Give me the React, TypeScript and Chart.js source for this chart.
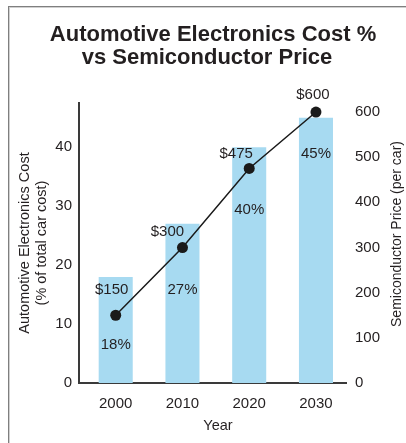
import React, { useEffect, useRef } from 'react';
import { Chart, registerables } from 'chart.js';

Chart.register(...registerables);

const years = [2000, 2010, 2020, 2030];
const costPct = [18, 27, 40, 45];
const semiPrice = [150, 300, 475, 600];
const pctLabels = ['18%', '27%', '40%', '45%'];
const priceLabels = ['$150', '$300', '$475', '$600'];
const leftTicks = [0, 10, 20, 30, 40];
const rightTicks = [0, 100, 200, 300, 400, 500, 600];
const titleLines = ['Automotive Electronics Cost %', 'vs Semiconductor Price'];
const leftTitle = ['Automotive Electronics Cost', '(% of total car cost)'];
const rightTitle = 'Semiconductor Price (per car)';
const xTitle = 'Year';

// label placement offsets (px) relative to the line points
const priceLabelOffsets = [[-4, -25], [-15, -16], [-13, -15], [-3, -17]];
const pctLabelOffsets = [30, 42, 41, 42];

const FONT = '"Liberation Sans", Arial, Helvetica, sans-serif';
const TEXT = '#231f20';

export default function App() {
  const ref = useRef<HTMLCanvasElement | null>(null);

  useEffect(() => {
    const canvas = ref.current;
    if (!canvas) return;

    const labelPlugin = {
      id: 'customText',
      afterDatasetsDraw(chart: any) {
        const ctx = chart.ctx;
        const meta = chart.getDatasetMeta(1);
        ctx.save();
        ctx.fillStyle = TEXT;
        ctx.font = `15px ${FONT}`;
        ctx.textAlign = 'center';
        ctx.textBaseline = 'middle';
        meta.data.forEach((pt: any, i: number) => {
          ctx.fillText(priceLabels[i], pt.x + priceLabelOffsets[i][0], pt.y + priceLabelOffsets[i][1]);
          ctx.fillText(pctLabels[i], pt.x, pt.y + pctLabelOffsets[i]);
        });
        ctx.restore();
      },
      afterDraw(chart: any) {
        const ctx = chart.ctx;
        ctx.save();
        ctx.fillStyle = TEXT;
        ctx.textAlign = 'center';
        ctx.textBaseline = 'alphabetic';
        ctx.font = `bold 22px ${FONT}`;
        ctx.fillText(titleLines[0], 213, 41);
        ctx.fillText(titleLines[1], 207, 64);

        ctx.font = `14.5px ${FONT}`;
        ctx.textBaseline = 'middle';
        ctx.fillText(xTitle, 218, 426);

        ctx.save();
        ctx.translate(25, 243);
        ctx.rotate(-Math.PI / 2);
        ctx.fillText(leftTitle[0], 0, 0);
        ctx.restore();
        ctx.save();
        ctx.translate(42, 243);
        ctx.rotate(-Math.PI / 2);
        ctx.fillText(leftTitle[1], 0, 0);
        ctx.restore();
        ctx.font = `14px ${FONT}`;
        ctx.save();
        ctx.translate(397, 234);
        ctx.rotate(-Math.PI / 2);
        ctx.fillText(rightTitle, 0, 0);
        ctx.restore();
        ctx.restore();
      },
    };

    const tickFont = { family: FONT, size: 15 };

    const chart = new Chart(canvas, {
      data: {
        datasets: [
          {
            type: 'bar',
            data: years.map((x, i) => ({ x, y: costPct[i] })),
            xAxisID: 'x',
            yAxisID: 'y',
            backgroundColor: '#a7daf1',
            barPercentage: 0.51,
            categoryPercentage: 1,
            order: 1,
          } as any,
          {
            type: 'line',
            data: years.map((x, i) => ({ x, y: semiPrice[i] })),
            xAxisID: 'x',
            yAxisID: 'y2',
            borderColor: '#1a1a1a',
            borderWidth: 1.5,
            pointRadius: 5.5,
            pointBackgroundColor: '#1a1a1a',
            pointBorderColor: '#1a1a1a',
            pointBorderWidth: 0,
            order: 0,
          } as any,
        ],
      },
      options: {
        responsive: false,
        animation: false,
        layout: { padding: { top: 103, left: 0, right: 0, bottom: 0 } },
        plugins: {
          legend: { display: false },
          tooltip: { enabled: false },
          title: { display: false },
        },
        scales: {
          x: {
            type: 'linear',
            offset: false,
            min: 1994.5,
            max: 2034.5,
            afterBuildTicks: (s: any) => {
              s.ticks = years.map((v) => ({ value: v }));
            },
            afterFit: (s: any) => {
              s.height = 60;
            },
            ticks: {
              callback: (v: any) => String(v),
              font: tickFont,
              color: TEXT,
              padding: 12,
              autoSkip: false,
              maxRotation: 0,
            },
            grid: { display: false, drawTicks: false, offset: false },
            border: { display: true, color: '#3a3a3a', width: 2 },
          },
          y: {
            type: 'linear',
            position: 'left',
            min: 0,
            max: 47.5,
            afterBuildTicks: (s: any) => {
              s.ticks = leftTicks.map((v) => ({ value: v }));
            },
            afterFit: (s: any) => {
              s.width = 79;
            },
            ticks: { font: tickFont, color: TEXT, padding: 7 },
            grid: { display: false, drawTicks: false },
            border: { display: true, color: '#3a3a3a', width: 2 },
          },
          y2: {
            type: 'linear',
            position: 'right',
            min: 0,
            max: 620,
            afterBuildTicks: (s: any) => {
              s.ticks = rightTicks.map((v) => ({ value: v }));
            },
            afterFit: (s: any) => {
              s.width = 60;
            },
            ticks: { font: tickFont, color: TEXT, padding: 9 },
            grid: { display: false, drawTicks: false },
            border: { display: false },
          },
        },
      } as any,
      plugins: [labelPlugin],
    });

    return () => chart.destroy();
  }, []);

  return (
    <div style={{ position: 'absolute', left: 0, top: 0, width: 406, height: 443, background: '#fff' }}>
      <div
        style={{
          position: 'absolute',
          left: 8,
          top: 6,
          width: 420,
          height: 460,
          borderLeft: '1px solid #7f7f7f',
          borderTop: '1px solid #7f7f7f',
          boxShadow: 'inset 1px 1px 0 #d0d0d0',
        }}
      />
      <canvas
        ref={ref}
        width={406}
        height={443}
        style={{ position: 'absolute', left: 0, top: 0, width: 406, height: 443 }}
      />
    </div>
  );
}
